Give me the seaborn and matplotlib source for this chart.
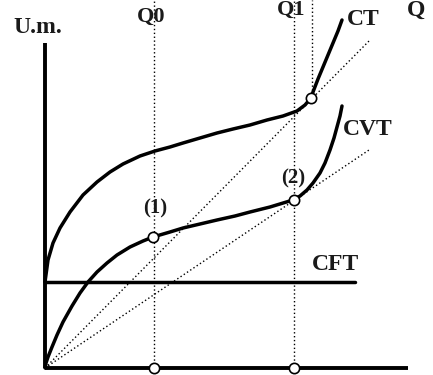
import matplotlib
matplotlib.use("Agg")
import matplotlib.pyplot as plt
import seaborn as sns

# quantities (Q) and costs (U.m.), arbitrary units
ct_q = [0, 3, 8, 15, 25, 38, 52, 65, 78, 95, 110, 125, 138, 155, 172, 188, 205,
        222, 238, 252, 260, 266, 268, 273, 278, 283, 288, 293, 297]
ct_c = [86, 108, 125, 140, 156, 173, 186, 196, 204, 212, 217, 221, 225, 230, 235, 239, 243,
        248, 252, 257, 263, 270, 276, 289, 301, 313, 325, 337, 348]

cvt_q = [0, 1, 3, 7, 12, 18, 27, 35, 43, 52, 62, 72, 85, 98, 108, 125, 138, 155, 172,
         190, 205, 225, 248, 255, 262, 268, 275, 280, 285, 289, 292, 295, 297]
cvt_c = [0, 5, 11, 21, 33, 46, 62, 75, 86, 96, 105, 113, 121, 127, 131, 136, 140, 144, 148,
         152, 156, 161, 168, 172, 178, 185, 195, 205, 218, 230, 241, 252, 262]

cft_q = [0, 310]
cft_c = [86, 86]

# rays from the origin (average cost slopes)
ray_ct_q = [0, 325]
ray_ct_c = [0, 328]
ray_cvt_q = [0, 324]
ray_cvt_c = [0, 218]

# Q0 and Q1 and the marked points
q0 = 109
q1 = 249
q1_ct = 267
pt_q = [108, 249, 266, 109, 249]
pt_c = [131, 168, 270, 0, 0]

x_axis_end = 363
y_axis_end = 325

sns.set_theme(style="white")
plt.rcParams["font.family"] = ["Liberation Serif", "DejaVu Serif"]

fig = plt.figure(figsize=(4.33, 3.75), dpi=100)
ax = fig.add_axes([0, 0, 1, 1])
ax.set_xlim(-45, 388)
ax.set_ylim(-7, 368)
ax.axis("off")

dot = (0, (1, 1.8))
dot_kw = dict(color="black", lw=1.0, linestyle=dot)

# dotted guides
ax.plot([q0, q0], [0, 368], **dot_kw)
ax.plot([q1, q1], [0, 368], **dot_kw)
ax.plot([q1_ct, q1_ct], [pt_c[2], 368], **dot_kw)
ax.plot(ray_ct_q, ray_ct_c, **dot_kw)
ax.plot(ray_cvt_q, ray_cvt_c, **dot_kw)

# axes
ax.plot([0, x_axis_end], [0, 0], color="black", lw=2.8, solid_capstyle="butt")
ax.plot([0, 0], [0, y_axis_end], color="black", lw=2.8, solid_capstyle="butt")

# cost curves
line_kw = dict(color="black", linewidth=2.5, sort=False, estimator=None, ax=ax)
sns.lineplot(x=ct_q, y=ct_c, **line_kw)
sns.lineplot(x=cvt_q, y=cvt_c, **line_kw)
sns.lineplot(x=cft_q, y=cft_c, **line_kw)
for line in ax.lines:
    line.set_solid_joinstyle("round")

ax.scatter(pt_q, pt_c, s=55, facecolor="white", edgecolor="black", linewidth=1.2, zorder=5)

txt = dict(fontweight="bold", color="#1a1a1a", ha="left", va="baseline")
ax.text(-32, 335, "U.m.", fontsize=17, **txt)
ax.text(92, 346, "Q0", fontsize=16, **txt)
ax.text(232, 353, "Q1", fontsize=16, **txt)
ax.text(362, 352, "Q", fontsize=17, **txt)
ax.text(302, 343, "CT", fontsize=17, **txt)
ax.text(298, 233, "CVT", fontsize=17, **txt)
ax.text(267, 98, "CFT", fontsize=17, **txt)
ax.text(110, 160, "(1)", fontsize=15, fontweight="bold", color="#1a1a1a", ha="center", va="center")
ax.text(248, 190, "(2)", fontsize=15, fontweight="bold", color="#1a1a1a", ha="center", va="center")

fig.savefig("out.png", dpi=100, facecolor="white")
